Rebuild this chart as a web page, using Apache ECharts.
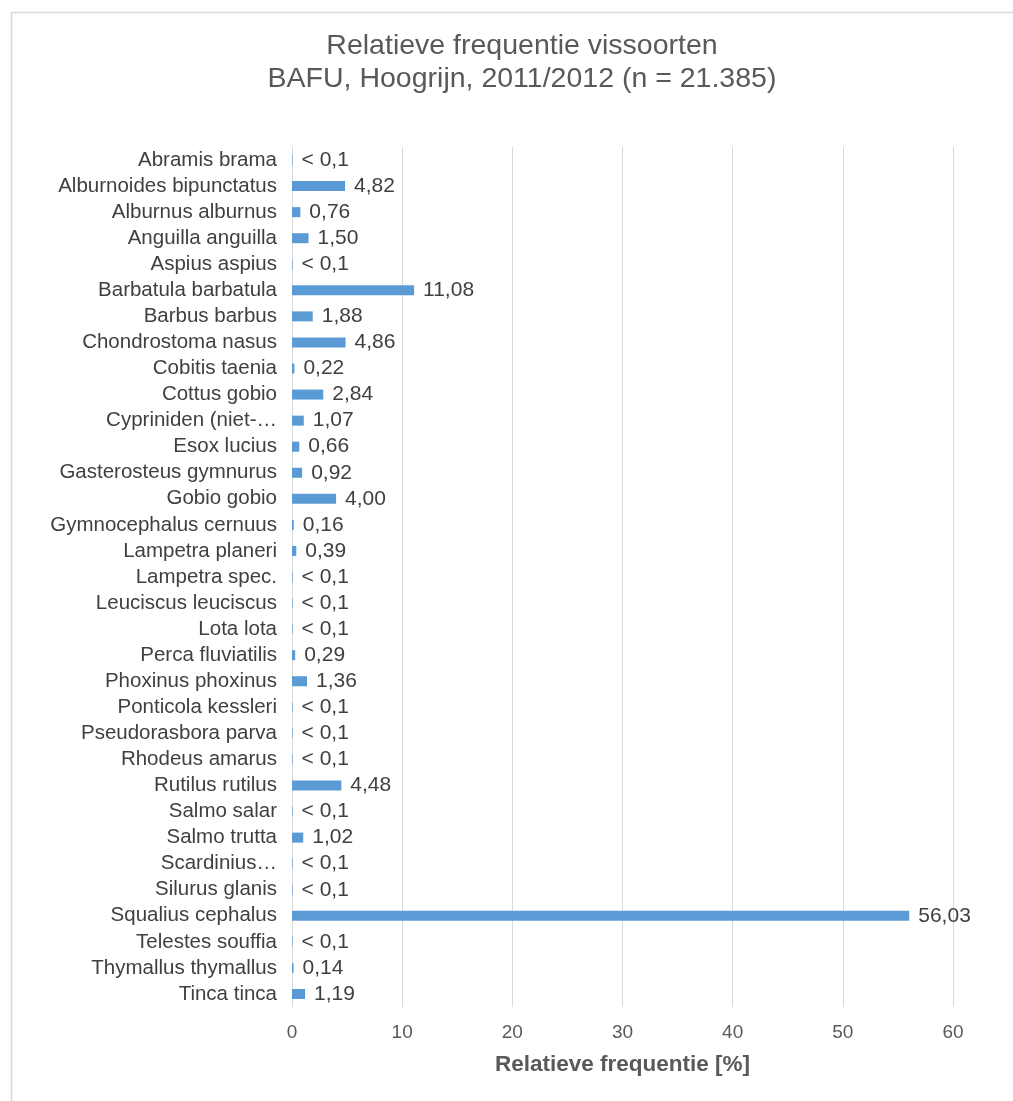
<!DOCTYPE html>
<html>
<head>
<meta charset="utf-8">
<script src="https://cdn.jsdelivr.net/npm/echarts@6/dist/echarts.min.js"></script>
<style>
  html, body { margin: 0; padding: 0; background: #fff; }
  #chart { width: 1013px; height: 1101px; }
</style>
</head>
<body>
<div id="chart"></div>
<script>
// Fish species, top to bottom
const species = [
  'Abramis brama', 'Alburnoides bipunctatus', 'Alburnus alburnus', 'Anguilla anguilla',
  'Aspius aspius', 'Barbatula barbatula', 'Barbus barbus', 'Chondrostoma nasus',
  'Cobitis taenia', 'Cottus gobio', 'Cypriniden (niet-…', 'Esox lucius',
  'Gasterosteus gymnurus', 'Gobio gobio', 'Gymnocephalus cernuus', 'Lampetra planeri',
  'Lampetra spec.', 'Leuciscus leuciscus', 'Lota lota', 'Perca fluviatilis',
  'Phoxinus phoxinus', 'Ponticola kessleri', 'Pseudorasbora parva', 'Rhodeus amarus',
  'Rutilus rutilus', 'Salmo salar', 'Salmo trutta', 'Scardinius…',
  'Silurus glanis', 'Squalius cephalus', 'Telestes souffia', 'Thymallus thymallus',
  'Tinca tinca'
];

// Relative frequency in %, values below 0.1 are shown as "< 0,1"
const frequency = [
  0.05, 4.82, 0.76, 1.50,
  0.05, 11.08, 1.88, 4.86,
  0.22, 2.84, 1.07, 0.66,
  0.92, 4.00, 0.16, 0.39,
  0.05, 0.05, 0.05, 0.29,
  1.36, 0.05, 0.05, 0.05,
  4.48, 0.05, 1.02, 0.05,
  0.05, 56.03, 0.05, 0.14,
  1.19
];

const xTicks = [0, 10, 20, 30, 40, 50, 60];

const titleLines = [
  'Relatieve frequentie vissoorten',
  'BAFU, Hoogrijn, 2011/2012 (n = 21.385)'
];
const xAxisName = 'Relatieve frequentie [%]';

const FONT = 'Liberation Sans, Arial, sans-serif';
const chart = echarts.init(document.getElementById('chart'), null, { renderer: 'canvas' });

chart.setOption({
  animation: false,
  backgroundColor: '#ffffff',
  textStyle: { fontFamily: FONT },
  graphic: [{
    type: 'rect',
    shape: { x: 11.5, y: 12.5, width: 1100, height: 1200 },
    style: { fill: 'none', stroke: '#d9d9d9', lineWidth: 1.5 },
    silent: true
  }],
  title: {
    text: titleLines.join('\n'),
    left: 517,
    top: 25,
    textAlign: 'center',
    textStyle: {
      fontFamily: FONT,
      fontSize: 28.5,
      fontWeight: 'normal',
      color: '#595959',
      lineHeight: 33
    }
  },
  grid: { left: 292, right: 60, top: 147, height: 860, containLabel: false },
  xAxis: {
    type: 'value',
    min: xTicks[0],
    max: xTicks[xTicks.length - 1],
    interval: 10,
    axisLine: { show: false },
    axisTick: { show: false },
    axisLabel: { color: '#595959', fontSize: 19, margin: 16, fontFamily: FONT },
    splitLine: { show: true, lineStyle: { color: '#d9d9d9', width: 1 } },
    name: xAxisName,
    nameLocation: 'middle',
    nameGap: 46,
    nameTextStyle: { color: '#595959', fontSize: 22.5, fontWeight: 'bold', fontFamily: FONT }
  },
  yAxis: {
    type: 'category',
    data: species,
    inverse: true,
    axisLine: { show: false },
    axisTick: { show: false },
    axisLabel: { interval: 0, color: '#404040', fontSize: 20.5, margin: 15, fontFamily: FONT }
  },
  series: [{
    type: 'bar',
    data: frequency,
    barWidth: 10,
    itemStyle: { color: '#5b9bd5' },
    label: {
      show: true,
      position: 'right',
      distance: 9,
      color: '#404040',
      fontSize: 21,
      fontFamily: FONT,
      formatter: p => p.value < 0.1 ? '< 0,1' : p.value.toFixed(2).replace('.', ',')
    }
  }]
});
</script>
</body>
</html>
